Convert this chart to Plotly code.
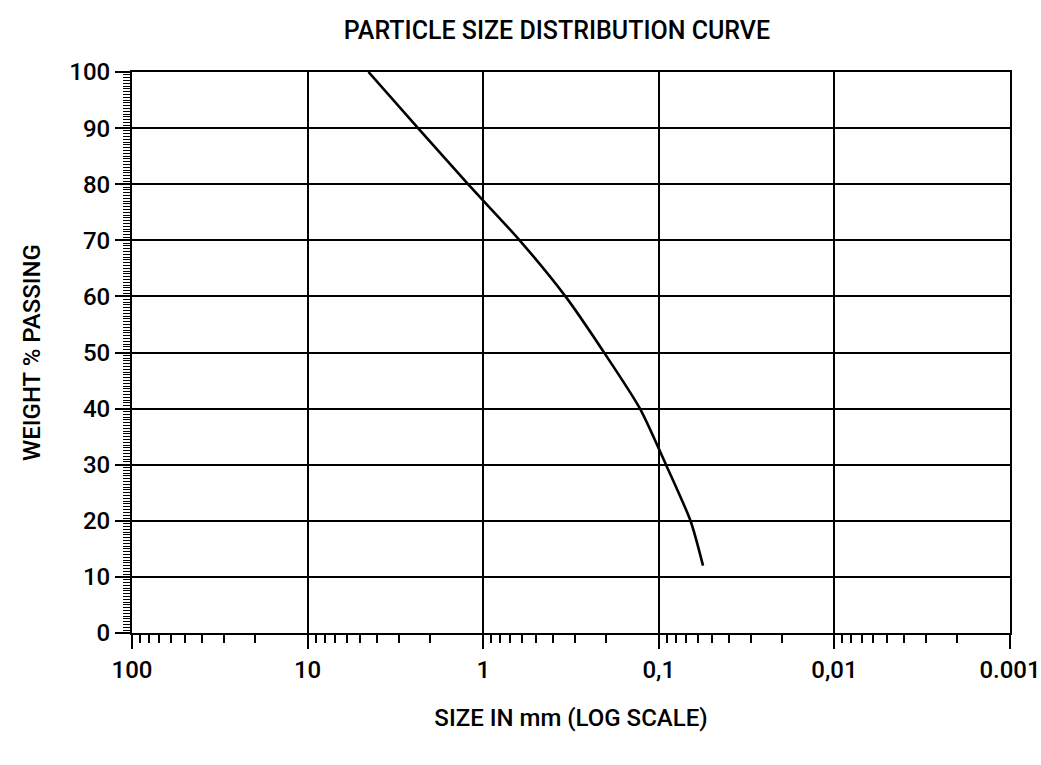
import plotly.graph_objects as go

# Data (particle size in mm, weight % passing)
size_mm = [4.5, 2.35, 1.22, 0.62, 0.34, 0.205, 0.128, 0.091, 0.066, 0.056]
pct_passing = [100, 90, 80, 70, 60, 50, 40, 30, 20, 12]

x_tickvals = [100, 10, 1, 0.1, 0.01, 0.001]
x_ticktext = ["100", "10", "1", "0,1", "0,01", "0.001"]
y_tickvals = [0, 10, 20, 30, 40, 50, 60, 70, 80, 90, 100]

FONT = "Roboto, Liberation Sans Narrow, DejaVu Sans Condensed, sans-serif"

fig = go.Figure()
fig.add_trace(go.Scatter(
    x=size_mm, y=pct_passing, mode="lines",
    line=dict(color="black", width=2.6, shape="spline", smoothing=0.7),
    showlegend=False, hoverinfo="x+y",
))

fig.update_layout(
    width=1041, height=765,
    margin=dict(l=132, r=31, t=72, b=132),
    paper_bgcolor="white", plot_bgcolor="white",
    font=dict(family=FONT, color="black", size=24, weight=500),
    title=dict(text="PARTICLE SIZE DISTRIBUTION CURVE", x=0.535, xanchor="center",
               y=0.961, yanchor="middle",
               font=dict(family=FONT, size=25, color="black", weight=500)),
)

fig.update_xaxes(
    type="log", range=[2, -3], automargin=False,
    tickvals=x_tickvals, ticktext=x_ticktext,
    ticks="outside", ticklen=14, tickwidth=2, tickcolor="black",
    minor=dict(ticks="outside", ticklen=8, tickwidth=2, tickcolor="black",
               dtick="D1", showgrid=False),
    showgrid=True, gridcolor="black", gridwidth=2,
    showline=True, linecolor="black", linewidth=2, mirror=True,
    tickfont=dict(family=FONT, size=24, weight=500),
    title=dict(text="SIZE IN mm (LOG SCALE)",
               font=dict(family=FONT, size=24, weight=500), standoff=26),
    zeroline=False,
)
fig.update_yaxes(
    range=[0, 100], automargin=False,
    tickvals=y_tickvals,
    ticks="outside", ticklen=15, tickwidth=2, tickcolor="black",
    minor=dict(ticks="outside", ticklen=7, tickwidth=1.2, tickcolor="black",
               dtick=0.5, showgrid=False),
    showgrid=True, gridcolor="black", gridwidth=2,
    showline=True, linecolor="black", linewidth=2, mirror=True,
    tickfont=dict(family=FONT, size=24, weight=500),
    title=dict(text="WEIGHT % PASSING",
               font=dict(family=FONT, size=24, weight=500), standoff=22),
    zeroline=False,
)

# remove the default 8px page margin so the 1041x765 figure fills the window
fig.write_html("out.html", config={"displayModeBar": False},
               post_script="document.body.style.margin='0';")
